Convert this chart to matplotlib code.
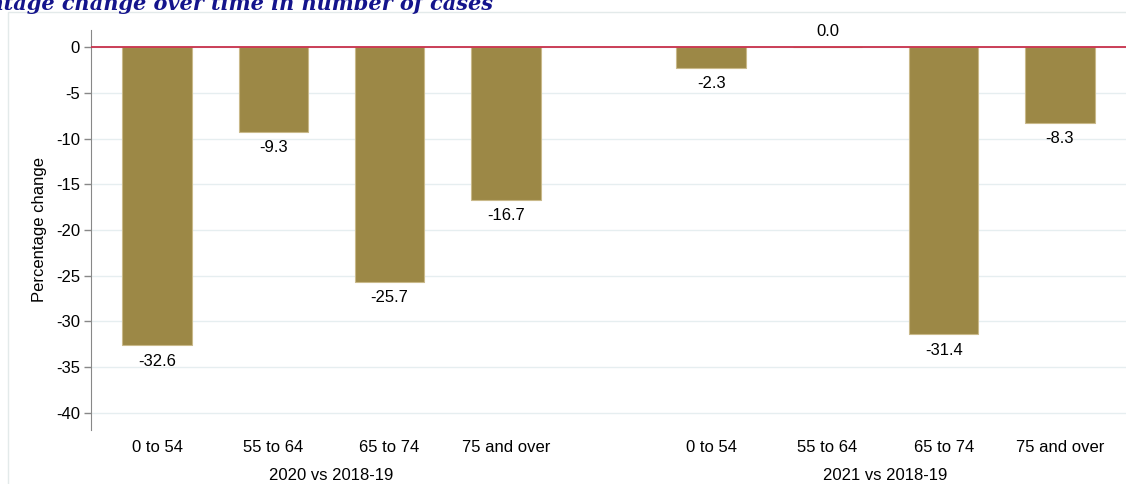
import numpy as np
import matplotlib
matplotlib.use("Agg")
import matplotlib.pyplot as plt
from matplotlib.patches import Rectangle

plt.rcParams['font.family'] = ['Liberation Sans', 'DejaVu Sans']

# data
age_groups = ['0 to 54', '55 to 64', '65 to 74', '75 and over']
periods = ['2020 vs 2018-19', '2021 vs 2018-19']
change_2020 = [-32.6, -9.3, -25.7, -16.7]
change_2021 = [-2.3, 0.0, -31.4, -8.3]
yticks = [0, -5, -10, -15, -20, -25, -30, -35, -40]

bar_col = '#9c8846'
edge_col = '#c9b98a'
grid_col = '#e6eef0'
zero_col = '#c8304a'
fs = 12

fig = plt.figure(figsize=(11.26, 4.84), dpi=100)
ax = fig.add_axes([91 / 1126, 1 - 430 / 484, 1 - 91 / 1126, 400 / 484])

# outer frame
fig.patches.append(Rectangle((8 / 1126, -0.01), 1.02, 1 - 12 / 484 + 0.01,
                             transform=fig.transFigure, fill=False,
                             edgecolor='#e3eaea', linewidth=1))

gap = 1.77
x1 = np.arange(len(age_groups))
x2 = x1 + len(age_groups) - 1 + gap
xs = np.concatenate([x1, x2])
vals = change_2020 + change_2021

ax.bar(xs, vals, width=0.6, color=bar_col, edgecolor=edge_col, linewidth=0.8, zorder=2)
ax.axhline(0, color=zero_col, linewidth=1.3, zorder=3)

for x, v in zip(xs, vals):
    if v < 0:
        ax.annotate(f'{v:.1f}', (x, v), xytext=(0, -6), textcoords='offset points',
                    ha='center', va='top', fontsize=fs)
    else:
        ax.annotate(f'{v:.1f}', (x, v), xytext=(0, 6), textcoords='offset points',
                    ha='center', va='bottom', fontsize=fs)

ax.set_xlim(-0.57, xs[-1] + 0.57)
ax.set_ylim(-41.86, 1.86)
ax.set_yticks(yticks)
ax.set_yticklabels([str(t) for t in yticks], fontsize=fs)
ax.yaxis.grid(True, color=grid_col, linewidth=1, zorder=0)
ax.set_axisbelow(True)

ax.set_xticks(xs)
ax.set_xticklabels(age_groups * 2, fontsize=fs)
ax.tick_params(axis='x', length=0, pad=7)
ax.tick_params(axis='y', length=5, color='#888888', width=1, pad=3)

for s in ['top', 'right', 'bottom']:
    ax.spines[s].set_visible(False)
ax.spines['left'].set_color('#888888')

ax.set_ylabel('Percentage change', fontsize=fs, labelpad=6)

for centre, label in zip([x1.mean(), x2.mean()], periods):
    ax.text(centre, -0.095, label, transform=ax.get_xaxis_transform(),
            ha='center', va='top', fontsize=fs)

fig.text(493 / 1126, 1 - 10 / 484, 'Percentage change over time in number of cases',
         ha='right', va='baseline', fontsize=15, fontweight='bold',
         fontstyle='italic', family=['DejaVu Serif'], color='#14148c')

fig.savefig('out.png', dpi=100)
